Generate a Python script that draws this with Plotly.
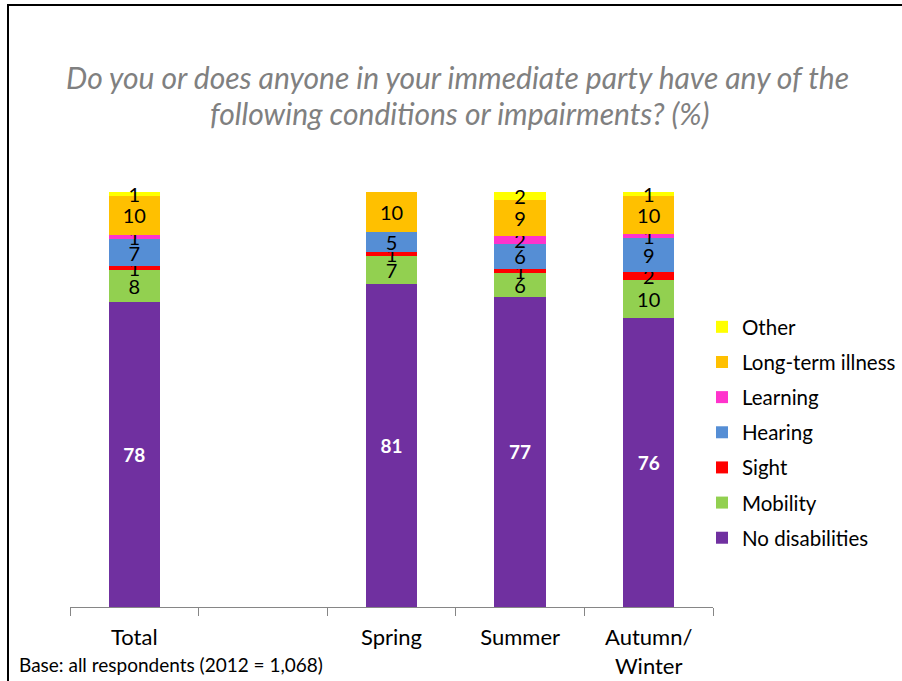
import plotly.graph_objects as go

# Categories along the x axis (second slot is an intentional empty gap)
categories = ["Total", " ", "Spring", "Summer", "Autumn/<br>Winter"]

# Reported percentages per condition (respondents could name several)
no_disabilities = [78, None, 81, 77, 76]
mobility = [8, None, 7, 6, 10]
sight = [1, None, 1, 1, 2]
hearing = [7, None, 5, 6, 9]
learning = [1, None, None, 2, 1]
long_term_illness = [10, None, 10, 9, 10]
other = [1, None, None, 2, 1]

series = [
    ("No disabilities", no_disabilities, "#7030A0"),
    ("Mobility", mobility, "#92D050"),
    ("Sight", sight, "#FF0000"),
    ("Hearing", hearing, "#558ED5"),
    ("Learning", learning, "#FF33CC"),
    ("Long-term illness", long_term_illness, "#FFC000"),
    ("Other", other, "#FFFF00"),
]

FONT = "Lato, 'Open Sans', sans-serif"

# Plot-area geometry in pixels
W, H = 902, 681
L, R, T, B = 70, 189, 192, 74
PW, PH = W - L - R, H - T - B


def px_x(x):
    return (x - L) / PW


def px_y(y):
    return (H - B - y) / PH


fig = go.Figure()
n = len(series)
for i, (name, vals, color) in enumerate(series):
    is_base = name == "No disabilities"
    fig.add_trace(go.Bar(
        x=categories,
        y=vals,
        name=name,
        legendgroup=name,
        legendrank=n - i,
        marker=dict(color=color, line=dict(width=0)),
        text=[("" if v is None else str(v)) for v in vals],
        textposition="inside",
        insidetextanchor="middle",
        textangle=0,
        constraintext="none",
        insidetextfont=dict(
            family=FONT,
            size=19 if is_base else 20,
            color="white" if is_base else "black",
            weight="bold" if is_base else "normal",
        ),
        cliponaxis=False,
        hoverinfo="name+y",
    ))

fig.update_layout(
    width=W,
    height=H,
    margin=dict(l=L, r=R, t=T, b=B, pad=0, autoexpand=False),
    paper_bgcolor="white",
    plot_bgcolor="white",
    barmode="stack",
    barnorm="percent",
    bargap=0.6,
    font=dict(family=FONT, color="black"),
    showlegend=True,
    legend=dict(
        x=px_x(702),
        xanchor="left",
        y=px_y(307),
        yanchor="top",
        traceorder="grouped",
        tracegroupgap=5.5,
        font=dict(family=FONT, size=20.5, color="black"),
        bgcolor="rgba(0,0,0,0)",
        borderwidth=0,
    ),
    xaxis=dict(
        showline=True,
        linecolor="#868686",
        linewidth=1,
        ticks="outside",
        tickson="boundaries",
        ticklen=8,
        tickcolor="#868686",
        ticklabelstandoff=11,
        tickfont=dict(family=FONT, size=22, color="black"),
        showgrid=False,
        zeroline=False,
        fixedrange=True,
    ),
    yaxis=dict(visible=False, range=[0, 100], fixedrange=True),
)

title_font = dict(family=FONT, size=30, color="#808080", style="italic")
fig.add_annotation(
    text="Do you or does anyone in your immediate party have any of the",
    xref="paper", yref="paper", x=px_x(457), y=px_y(77),
    xanchor="center", yanchor="middle", showarrow=False, font=title_font,
)
fig.add_annotation(
    text="following conditions or impairments? (%)",
    xref="paper", yref="paper", x=px_x(460), y=px_y(113),
    xanchor="center", yanchor="middle", showarrow=False, font=title_font,
)
fig.add_annotation(
    text="Base: all respondents (2012 = 1,068)",
    xref="paper", yref="paper", x=px_x(17), y=px_y(664),
    xanchor="left", yanchor="middle", showarrow=False,
    font=dict(family=FONT, size=19, color="black"),
)

# Frame lines along the top and left edges
fig.add_shape(type="line", xref="paper", yref="paper",
              x0=px_x(7), x1=px_x(910), y0=px_y(5), y1=px_y(5),
              line=dict(color="black", width=2))
fig.add_shape(type="line", xref="paper", yref="paper",
              x0=px_x(8), x1=px_x(8), y0=px_y(4), y1=px_y(690),
              line=dict(color="black", width=2))

fig.write_html("out.html")
